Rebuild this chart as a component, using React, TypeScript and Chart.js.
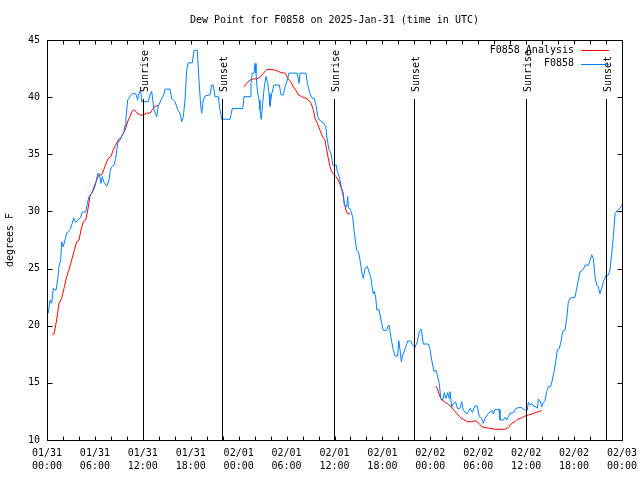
import React, { useEffect, useRef } from "react";
import { Chart, registerables } from "chart.js";

Chart.register(...registerables);

const chartTitle = "Dew Point for F0858 on 2025-Jan-31 (time in UTC)";
const yAxisTitle = "degrees F";

const xTickDates = ["01/31", "01/31", "01/31", "01/31", "02/01", "02/01", "02/01", "02/01", "02/02", "02/02", "02/02", "02/02", "02/03"];
const xTickTimes = ["00:00", "06:00", "12:00", "18:00", "00:00", "06:00", "12:00", "18:00", "00:00", "06:00", "12:00", "18:00", "00:00"];
const yTickValues = [10, 15, 20, 25, 30, 35, 40, 45];

const eventHours = [12.06, 21.95, 35.98, 45.96, 60.02, 70.04];
const eventLabels = ["Sunrise", "Sunset", "Sunrise", "Sunset", "Sunrise", "Sunset"];
const eventTopValue = 39.8;

const seriesLabels = ["F0858 Analysis", "F0858"];

// Observations (hours since 01/31 00:00 UTC, dew point F)
const obsHours = [
  0.16, 0.38, 0.59, 0.79, 1.13, 1.34, 1.5, 1.72, 1.84, 2.04, 2.25, 2.47, 2.88, 3.17, 3.34, 3.59, 3.92, 4.22, 4.42, 4.85,
  5.05, 5.26, 5.6, 5.92, 6.1, 6.35, 6.55, 6.76, 6.92, 7.1, 7.48, 7.76, 7.93, 8.1, 8.39, 8.6, 8.85, 9.14, 9.43, 9.64,
  9.77, 9.89, 10.1, 10.39, 10.68, 11.11, 11.36, 11.48, 11.73, 11.86, 12.68, 12.9, 13.11, 13.4, 13.74, 13.94, 14.28, 14.61, 14.78, 15.4,
  15.61, 16.03, 16.37, 16.65, 16.87, 17.07, 17.28, 17.49, 17.69, 18.19, 18.41, 18.82, 19.03, 19.25, 19.37, 19.57, 19.78, 20.41, 20.62, 20.82,
  21.04, 21.45, 21.66, 21.88, 22.92, 23.2, 24.51, 24.67, 25.42, 25.54, 25.71, 25.92, 26.05, 26.17, 26.33, 26.55, 26.67, 26.83, 27.01, 27.21,
  27.42, 27.64, 27.8, 27.92, 28.14, 28.42, 29.09, 29.3, 29.59, 29.8, 30.09, 30.3, 31.34, 31.56, 31.68, 32.43, 32.6, 32.93, 33.22, 33.47,
  33.68, 33.9, 34.1, 34.6, 34.9, 35.1, 35.31, 35.56, 35.78, 36.23, 36.35, 36.6, 36.9, 37.1, 37.23, 37.53, 37.65, 37.73, 38.03, 38.28,
  38.44, 38.6, 38.78, 38.98, 39.11, 39.32, 39.48, 39.61, 39.82, 40.11, 40.36, 40.53, 40.7, 40.86, 40.99, 41.16, 41.29, 41.57, 41.7, 41.91,
  42.11, 42.54, 42.66, 42.83, 42.95, 43.16, 43.36, 43.58, 43.91, 44.04, 44.2, 44.37, 44.54, 44.7, 44.95, 45.17, 45.54, 45.79, 46.08, 46.37,
  46.62, 46.83, 47.0, 47.12, 47.75, 47.96, 48.17, 48.46, 48.71, 48.87, 49.12, 49.3, 49.55, 49.75, 49.96, 50.18, 50.34, 50.46, 50.68, 50.88,
  51.18, 51.38, 51.72, 51.93, 52.13, 52.55, 52.75, 52.97, 53.26, 53.59, 53.88, 54.13, 54.43, 54.63, 54.85, 55.06, 55.26, 55.56, 55.76, 55.88,
  56.1, 56.6, 56.72, 57.14, 57.35, 57.56, 57.76, 57.98, 58.39, 58.73, 59.23, 59.57, 59.86, 60.14, 60.27, 60.48, 60.69, 60.89, 61.23, 61.4,
  61.52, 61.73, 61.95, 62.15, 62.36, 62.57, 62.77, 63.07, 63.27, 63.49, 63.7, 63.9, 64.15, 64.36, 64.57, 64.86, 65.08, 65.28, 65.49, 66.12,
  66.33, 66.53, 66.74, 67.16, 67.37, 67.78, 68.0, 68.21, 68.41, 68.62, 68.83, 69.03, 69.25, 69.46, 69.66, 69.96, 70.29, 70.5, 70.71, 70.92,
  71.13, 71.42, 71.75, 71.96,
];
const obsDew = [
  21.1, 22.25, 21.96, 23.27, 23.1, 24.0, 25.2, 25.75, 27.35, 26.9, 27.5, 28.1, 28.4, 29.0, 29.4, 29.05, 29.25, 29.5, 29.95, 29.95,
  30.7, 31.3, 31.6, 32.0, 32.45, 33.3, 33.3, 32.45, 33.05, 32.6, 32.2, 32.75, 33.6, 33.9, 34.05, 34.65, 35.95, 36.25, 36.7, 37.0,
  37.56, 38.15, 39.75, 40.04, 40.3, 40.3, 39.75, 40.3, 40.6, 39.6, 39.6, 40.2, 40.5, 38.9, 38.3, 39.2, 39.75, 40.2, 40.7, 40.7,
  39.9, 39.6, 38.9, 38.6, 37.85, 38.3, 39.75, 42.4, 43.0, 43.0, 44.1, 44.1, 41.5, 39.2, 38.6, 39.75, 40.1, 40.2, 41.06, 41.06,
  40.04, 40.04, 38.9, 38.06, 38.06, 39.0, 39.0, 40.04, 40.04, 41.2, 42.1, 42.1, 42.95, 42.1, 40.6, 39.75, 38.9, 38.06, 39.5, 40.9,
  41.8, 41.2, 40.3, 39.2, 40.3, 41.06, 41.06, 40.2, 40.2, 40.9, 41.5, 42.1, 42.1, 41.2, 42.1, 42.1, 41.2, 40.3, 39.9, 39.9,
  39.3, 38.3, 38.0, 37.77, 37.4, 36.25, 35.4, 35.1, 34.05, 34.05, 33.5, 33.04, 32.0, 31.6, 30.56, 30.4, 31.3, 30.4, 30.1, 29.5,
  28.4, 27.5, 26.6, 26.5, 26.1, 25.16, 24.4, 24.15, 25.0, 25.2, 24.6, 24.3, 23.4, 22.8, 23.0, 22.5, 21.4, 21.4, 20.94, 20.2,
  19.6, 19.6, 19.9, 20.06, 19.5, 18.6, 17.9, 17.35, 17.35, 18.7, 17.9, 16.85, 17.44, 17.7, 18.2, 18.66, 18.66, 18.3, 18.1, 18.6,
  19.5, 19.7, 19.04, 18.4, 18.4, 17.94, 17.0, 16.0, 16.1, 15.7, 14.96, 13.65, 13.5, 14.14, 13.65, 14.14, 13.65, 14.23, 12.9, 13.2,
  13.3, 12.77, 12.77, 13.35, 12.6, 12.27, 12.48, 12.77, 12.42, 12.97, 12.97, 12.04, 11.9, 11.46, 11.9, 12.1, 12.33, 12.48, 12.6, 12.27,
  12.68, 12.68, 11.75, 11.75, 11.98, 11.75, 12.04, 12.33, 12.39, 12.77, 12.86, 12.77, 12.6, 12.6, 13.3, 13.06, 13.2, 12.97, 12.9, 12.77,
  13.56, 13.44, 12.9, 13.27, 13.44, 14.23, 14.66, 14.66, 15.25, 15.98, 16.85, 17.9, 18.0, 18.6, 19.5, 19.6, 20.65, 22.1, 22.4, 22.5,
  23.27, 24.0, 24.7, 24.94, 25.3, 25.3, 25.7, 26.2, 25.9, 24.3, 23.56, 23.4, 22.8, 23.27, 23.85, 24.35, 24.44, 24.9, 26.3, 27.8,
  29.8, 30.1, 30.27, 30.56,
];

// Analysis (null entries separate the three segments)
const anaHours = [
  0.66, 0.88, 1.21, 1.5, 1.84, 2.17, 2.47, 2.75, 3.09, 3.42, 3.72, 4.01, 4.26, 4.55, 4.85, 5.1, 5.38, 5.6, 5.92, 6.22,
  6.51, 6.85, 7.18, 7.48, 7.68, 8.01, 8.3, 8.6, 8.93, 9.27, 9.55, 9.85, 10.1, 10.39, 10.68, 10.93, 11.23, 11.65, 12.06, 12.48,
  12.9, 13.19, 13.52, 13.94,
  19.0,
  24.67, 25.01, 25.42, 25.83, 26.26, 26.67, 27.09, 27.51, 27.92, 28.34, 28.84, 29.26, 29.8, 30.22, 30.52, 30.84, 31.18, 31.47, 31.89, 32.43,
  32.85, 33.06, 33.35, 33.56, 33.85, 34.19, 34.52, 34.81, 35.02, 35.22, 35.44, 35.65, 35.85, 36.19, 36.48, 36.78, 37.03, 37.23, 37.44, 37.65,
  37.94,
  43.0,
  48.66, 48.87, 49.12, 49.42, 49.8, 50.25, 50.68, 50.96, 51.3, 51.72, 52.13, 52.63, 53.18, 53.6, 54.0, 54.43, 54.85, 55.47, 56.1, 56.73,
  57.35, 57.77, 58.19, 58.6, 58.9, 59.32, 59.86, 60.27, 60.7, 61.1, 61.52, 61.94,
];
const anaDew = [
  19.27, 19.27, 20.5, 21.96, 22.4, 23.4, 24.3, 24.9, 25.75, 26.6, 27.35, 27.5, 28.4, 29.1, 29.25, 30.1, 31.3, 31.6, 32.2, 32.75,
  33.2, 33.2, 33.77, 34.35, 34.65, 34.8, 35.4, 35.8, 36.25, 36.5, 36.8, 37.27, 37.85, 38.3, 38.8, 38.9, 38.65, 38.44, 38.44, 38.6,
  38.6, 38.9, 39.2, 39.25,
  null,
  40.9, 41.2, 41.5, 41.6, 41.6, 41.73, 42.1, 42.4, 42.43, 42.4, 42.3, 42.15, 42.1, 41.6, 41.35, 40.9, 40.6, 40.2, 40.04, 39.9,
  39.66, 39.46, 38.9, 38.15, 37.7, 37.1, 36.5, 36.25, 35.4, 34.65, 33.9, 33.5, 33.3, 33.04, 32.75, 32.2, 31.6, 30.7, 30.1, 29.8,
  29.8,
  null,
  14.73, 14.52, 13.94, 13.5, 13.35, 13.12, 12.86, 12.6, 12.33, 11.98, 11.81, 11.6, 11.6, 11.69, 11.52, 11.17, 11.08, 11.02, 10.94, 10.94,
  10.94, 11.1, 11.46, 11.6, 11.81, 11.9, 12.1, 12.19, 12.27, 12.39, 12.48, 12.56,
];

const FONT = "'DejaVu Sans Mono', monospace";
const RED = "#ff0000";
const BLUE = "#0080ff";

const overlayPlugin = {
  id: "gnuplotOverlay",
  afterDraw(chart: any) {
    const { ctx, chartArea: a, scales } = chart;
    const xs = scales.x;
    const ys = scales.y;
    const L = Math.round(a.left) + 0.5;
    const R = Math.round(a.right) + 0.5;
    const T = Math.round(a.top) + 0.5;
    const B = Math.round(a.bottom) + 0.5;
    const seg = (x1: number, y1: number, x2: number, y2: number) => {
      ctx.beginPath();
      ctx.moveTo(x1, y1);
      ctx.lineTo(x2, y2);
      ctx.stroke();
    };
    ctx.save();
    ctx.strokeStyle = "#000";
    ctx.lineWidth = 1;
    // frame
    ctx.strokeRect(L, T, R - L, B - T);
    // x ticks (every 2 h), mirrored
    for (let h = xs.min; h <= xs.max; h += 2) {
      const px = Math.round(xs.getPixelForValue(h)) + 0.5;
      seg(px, B, px, B - 4);
      seg(px, T, px, T + 4);
    }
    // y ticks, mirrored
    yTickValues.forEach((v) => {
      const py = Math.round(ys.getPixelForValue(v)) + 0.5;
      seg(L, py, L + 5, py);
      seg(R, py, R - 5, py);
    });
    // sunrise / sunset markers
    ctx.fillStyle = "#000";
    ctx.font = `10px ${FONT}`;
    eventHours.forEach((h, i) => {
      const px = Math.round(xs.getPixelForValue(h)) + 0.5;
      const top = Math.round(ys.getPixelForValue(eventTopValue));
      seg(px, B, px, top);
      ctx.save();
      ctx.translate(px + 1.5, top - 7);
      ctx.rotate(-Math.PI / 2);
      ctx.textAlign = "left";
      ctx.textBaseline = "middle";
      ctx.fillText(eventLabels[i], 0, 0);
      ctx.restore();
    });
    // legend
    const colors = [RED, BLUE];
    seriesLabels.forEach((label, i) => {
      const y = Math.round(a.top) + 10 + i * 13.5;
      ctx.textAlign = "right";
      ctx.textBaseline = "middle";
      ctx.fillStyle = "#000";
      ctx.fillText(label, a.right - 48, y);
      ctx.strokeStyle = colors[i];
      seg(a.right - 41, Math.round(y) + 0.5, a.right - 13, Math.round(y) + 0.5);
    });
    // title
    ctx.fillStyle = "#000";
    ctx.textAlign = "center";
    ctx.textBaseline = "middle";
    ctx.fillText(chartTitle, (a.left + a.right) / 2, 20);
    ctx.restore();
  },
};

export default function App() {
  const canvasRef = useRef<HTMLCanvasElement | null>(null);

  useEffect(() => {
    if (!canvasRef.current) return;
    const tickFont = { family: FONT, size: 10, lineHeight: 1.3 };
    const chart = new Chart(canvasRef.current, {
      type: "line",
      data: {
        datasets: [
          {
            label: seriesLabels[0],
            data: anaHours.map((h, i) => ({ x: h, y: anaDew[i] })),
            borderColor: RED,
            borderWidth: 1,
            pointRadius: 0,
            tension: 0,
            spanGaps: false,
            order: 2,
          },
          {
            label: seriesLabels[1],
            data: obsHours.map((h, i) => ({ x: h, y: obsDew[i] })),
            borderColor: BLUE,
            borderWidth: 1,
            pointRadius: 0,
            tension: 0,
            order: 1,
          },
        ],
      },
      options: {
        animation: false,
        responsive: false,
        events: [],
        layout: { padding: { left: 0, right: 18, top: 40, bottom: 0 } },
        plugins: {
          legend: { display: false },
          title: { display: false },
          tooltip: { enabled: false },
        },
        scales: {
          x: {
            type: "linear",
            min: 0,
            max: 72,
            afterFit: (s: any) => {
              s.height = 40;
              s.paddingLeft = 0;
              s.paddingRight = 0;
            },
            grid: { display: false, drawTicks: false },
            border: { display: false },
            ticks: {
              stepSize: 6,
              autoSkip: false,
              maxRotation: 0,
              padding: 7,
              color: "#000",
              font: tickFont,
              callback: (value: any) => {
                const i = Math.round(Number(value) / 6);
                return [xTickDates[i], xTickTimes[i]];
              },
            },
          },
          y: {
            type: "linear",
            min: 10,
            max: 45,
            afterFit: (s: any) => {
              s.width = 47;
              s.paddingTop = 0;
              s.paddingBottom = 0;
            },
            grid: { display: false, drawTicks: false },
            border: { display: false },
            ticks: {
              stepSize: 5,
              padding: 7,
              color: "#000",
              font: tickFont,
              callback: (value: any) => String(value),
            },
            title: {
              display: true,
              text: yAxisTitle,
              color: "#000",
              font: { family: FONT, size: 10, lineHeight: 1.2 },
              padding: { top: 4, bottom: 4 },
            },
          },
        },
      },
      plugins: [overlayPlugin],
    });
    return () => chart.destroy();
  }, []);

  return (
    <div style={{ position: "fixed", left: 0, top: 0, width: 640, height: 480, background: "#fff" }}>
      <canvas ref={canvasRef} width={640} height={480} style={{ width: 640, height: 480 }} />
    </div>
  );
}
